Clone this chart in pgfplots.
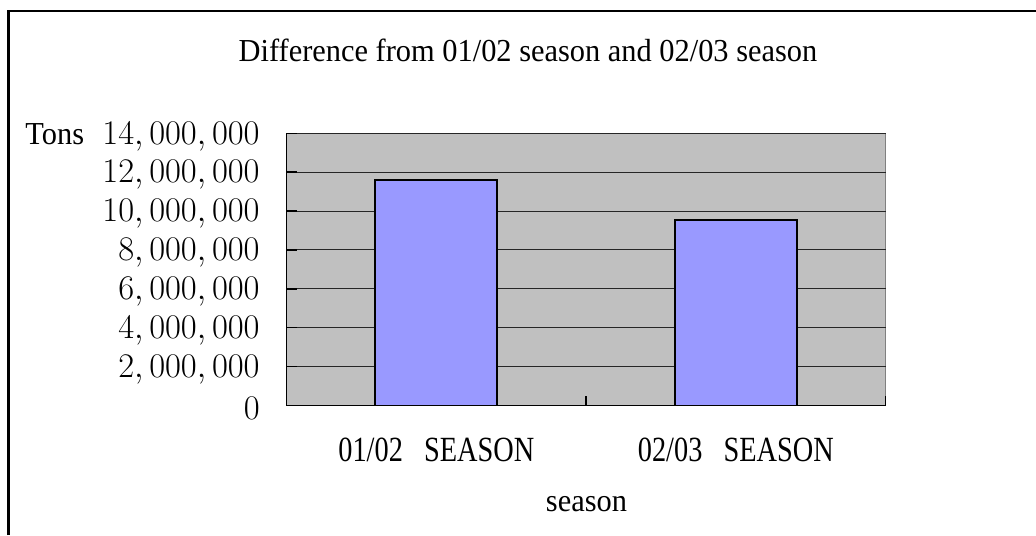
\documentclass[border=0pt]{standalone}
\usepackage{fontspec}
\usepackage{pgfplots}
\pgfplotsset{compat=1.18}
\newfontfamily\titlefont[FakeStretch=0.95]{Liberation Serif}
\newfontfamily\simfont[FakeStretch=0.8]{Liberation Serif}
\definecolor{bgGray}{HTML}{C0C0C0}
\definecolor{barBlue}{HTML}{9999FF}
\definecolor{frameGray}{HTML}{808080}
\begin{document}
\begin{tikzpicture}
\useasboundingbox (0,0) rectangle (518pt,267.5pt);
\draw[line width=1.2pt] (4.25pt,0) -- (4.25pt,261.85pt) -- (518pt,261.85pt);
\begin{axis}[
  at={(143.3pt,64.75pt)}, anchor=south west,
  scale only axis, width=299.5pt, height=136.1pt,
  xmin=-0.5, xmax=1.5, ymin=0, ymax=14000000,
  axis lines*=left,
  axis line style={black, line width=0.75pt},
  axis background/.style={fill=bgGray, draw=frameGray, line width=0.75pt},
  tick align=inside, major tick length=5pt,
  tick style={black, line width=0.75pt},
  xtick={0,1},
  xticklabels={01/02\hspace{0.6em}SEASON, 02/03\hspace{0.6em}SEASON},
  major x tick style={draw=none},
  extra x ticks={0.5,1.5},
  extra x tick labels={},
  extra x tick style={major x tick style={draw=black, line width=0.75pt}},
  xticklabel style={font=\simfont\fontsize{17.7}{20}\selectfont, anchor=base, yshift=-28.1pt, inner sep=0pt},
  ytick={0,2000000,4000000,6000000,8000000,10000000,12000000,14000000},
  scaled y ticks=false,
  yticklabel style={font=\fontsize{16}{19}\selectfont, anchor=east, inner sep=0pt, xshift=-13.3pt, yshift=-1.5pt,
    /pgf/number format/.cd, fixed, 1000 sep={{,}\,}},
  ymajorgrids=true, xmajorgrids=false,
  grid style={black!85, line width=0.5pt},
  clip=false,
]
\addplot[ybar, bar width=61pt, fill=barBlue, draw=black, line width=0.9pt]
  coordinates {(0,11600000) (1,9540000)};
\end{axis}
\node[anchor=base, inner sep=0pt, font=\titlefont\fontsize{16}{19}\selectfont] at (264pt,236.6pt) {Difference from 01/02 season and 02/03 season};
\node[anchor=base west, inner sep=0pt, font=\titlefont\fontsize{16}{19}\selectfont] at (12.5pt,195pt) {Tons};
\node[anchor=base, inner sep=0pt, font=\titlefont\fontsize{16}{19}\selectfont] at (293.25pt,11.65pt) {season};
\end{tikzpicture}
\end{document}
